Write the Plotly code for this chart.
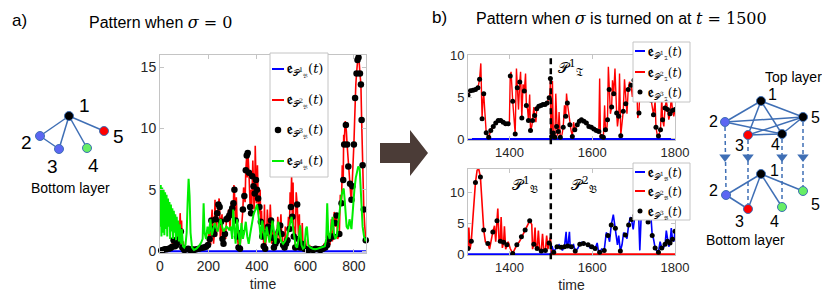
import plotly.graph_objects as go

# ======================= DATA =======================
# ---- panel a) : pattern when sigma = 0 ----
a_dot_t = [5, 12, 20, 28, 36, 44, 50, 56, 62, 68, 74, 80, 86, 92, 100, 108, 116, 124, 132, 140,
           150, 160, 170, 180, 190, 198, 205, 212, 218, 224, 230, 236, 241, 246, 252, 258, 262,
           268, 274, 280, 286, 292, 298, 303, 307, 312, 318, 324, 330, 336, 342, 348, 354, 358,
           362, 367, 372, 376, 381, 386, 391, 396, 400, 405, 410, 416, 422, 428, 434, 440, 446,
           452, 458, 464, 470, 476, 482, 490, 496, 502, 508, 514, 520, 526, 534, 540, 546, 552,
           558, 566, 572, 578, 584, 590, 596, 604, 612, 622, 632, 642, 652, 662, 672, 682, 690,
           698, 704, 715, 722, 729, 740, 749, 756, 760, 767, 772, 777, 784, 790, 794, 800, 805,
           811, 815, 819, 825, 829, 832, 836, 841, 849]
a_dot_v = [0.05, 0.1, 0.15, 0.15, 0.2, 0.25, 0.35, 0.9, 0.4, 0.5, 0.7, 1.0, 1.6, 0.3, 0.1, 0.15,
           0.2, 0.1, 0.15, 0.1, 0.15, 0.2, 0.25, 0.3, 0.35, 0.5, 1.0, 2.5, 1.8, 1.4, 2.6, 3.1, 3.8,
           3.6, 2.4, 1.0, 0.6, 1.4, 2.6, 2.7, 2.9, 3.2, 3.5, 3.9, 5.0, 2.5, 1.2, 0.3, 0.2, 1.5, 3.4,
           4.5, 6.6, 7.8, 8.0, 6.4, 3.6, 3.1, 6.1, 5.3, 4.7, 5.8, 5.0, 4.3, 3.6, 2.4, 1.2, 0.4, 0.2,
           1.5, 2.0, 1.7, 2.5, 1.1, 0.3, 0.6, 0.8, 1.6, 2.1, 1.4, 0.5, 0.3, 0.6, 0.9, 1.8, 3.6, 2.8,
           1.2, 0.3, 3.8, 1.0, 0.3, 0.6, 0.4, 0.2, 0.15, 0.1, 0.15, 0.1, 0.2, 0.15, 0.1, 0.2, 0.3,
           0.5, 1.0, 1.2, 1.2, 2.3, 2.9, 1.4, 3.9, 5.8, 8.7, 10.3, 8.7, 6.9, 5.5, 4.2, 5.3, 8.7,
           12.5, 14.5, 15.6, 15.8, 14.5, 13.6, 10.7, 7.0, 3.4, 0.9]
a_red_extra_t = [53, 59, 77, 83, 89, 96, 203, 209, 215, 221, 227, 233, 239, 244, 249, 256, 271,
                 283, 289, 295, 301, 305, 310, 315, 321, 327, 333, 339, 345, 351, 356, 360, 364,
                 369, 374, 379, 383, 388, 393, 398, 402, 407, 413, 419, 425, 431, 437, 443, 449,
                 455, 461, 467, 473, 479, 486, 493, 499, 505, 511, 517, 523, 530, 537, 543, 549,
                 555, 562, 569, 575, 581, 587, 593, 600, 617, 637, 657, 677, 686, 694, 701, 707,
                 711, 719, 725, 733, 744, 752, 758, 764, 769, 775, 781, 787, 792, 797, 803, 808,
                 813, 817, 822, 827, 834, 838, 845]
a_red_extra_v = [1.2, 0.2, 2.2, 3.1, 2.5, 0.8, 1.8, 0.5, 3.4, 0.6, 4.2, 1.2, 3.0, 4.3, 1.0, 3.0,
                 1.0, 3.4, 1.9, 4.0, 2.5, 5.4, 3.0, 4.4, 0.8, 1.5, 0.9, 2.6, 5.2, 4.0, 7.4, 6.0,
                 7.6, 4.8, 5.0, 4.0, 7.4, 3.4, 8.6, 3.9, 7.0, 3.0, 5.0, 3.3, 2.2, 3.8, 0.8, 3.4,
                 1.0, 3.8, 0.6, 2.4, 1.2, 1.6, 2.8, 0.9, 3.0, 1.2, 0.6, 2.0, 0.4, 2.8, 4.8, 6.1,
                 5.6, 2.0, 4.8, 2.5, 3.0, 0.5, 2.3, 0.6, 1.0, 0.5, 0.3, 0.4, 0.6, 0.9, 1.6, 0.5,
                 2.6, 0.8, 3.2, 2.0, 1.0, 4.6, 7.0, 9.5, 10.6, 9.8, 7.8, 6.0, 4.6, 5.0, 7.2, 10.6,
                 13.6, 15.2, 15.9, 15.4, 14.0, 8.6, 5.0, 2.0]
a_green_t = [0, 3, 6, 9, 12, 15, 18, 21, 24, 27, 30, 33, 36, 39, 42, 45, 48, 51, 54, 57, 60, 63,
             66, 69, 72, 75, 78, 82, 86, 90, 95, 100, 105, 110, 114, 118, 122, 126, 132, 140,
             150, 160, 170, 176, 180, 184, 190, 196, 202, 208, 214, 220, 226, 232, 238, 244, 250,
             256, 262, 268, 274, 280, 286, 292, 298, 302, 306, 312, 318, 324, 330, 336, 342, 348,
             354, 360, 366, 372, 378, 386, 394, 400, 405, 410, 416, 422, 428, 434, 440, 446, 452,
             458, 464, 470, 476, 482, 488, 494, 500, 508, 516, 524, 532, 538, 543, 548, 554, 560,
             566, 572, 578, 584, 590, 596, 602, 606, 612, 620, 630, 640, 650, 660, 670, 680, 686,
             690, 694, 700, 706, 712, 718, 724, 730, 736, 742, 748, 754, 758, 762, 766, 770, 776,
             782, 790, 796, 802, 808, 813, 818, 824, 830, 836, 842, 849]
a_green_v = [2.0, 5.4, 1.2, 5.2, 1.5, 5.0, 1.3, 4.8, 1.8, 4.6, 1.2, 4.3, 2.0, 4.0, 1.0, 3.8,
             1.6, 3.5, 1.0, 3.3, 1.5, 3.0, 0.9, 2.8, 1.2, 2.5, 0.8, 2.2, 0.6, 1.8, 0.4, 0.3, 0.5,
             1.5, 4.0, 5.9, 4.5, 1.5, 0.3, 0.1, 0.2, 0.4, 0.7, 1.0, 3.9, 1.5, 1.0, 2.0, 1.4, 2.6,
             1.3, 1.8, 2.3, 1.9, 1.6, 2.2, 2.6, 2.0, 1.6, 1.8, 2.0, 1.9, 1.7, 2.0, 1.0, 3.4, 2.0,
             0.6, 2.6, 1.2, 0.5, 2.3, 1.0, 1.6, 2.4, 1.2, 0.6, 1.4, 2.2, 3.0, 3.4, 3.8, 3.2, 2.0,
             1.0, 2.5, 1.5, 0.7, 2.0, 1.2, 0.7, 1.4, 2.5, 1.6, 0.6, 1.4, 2.4, 1.5, 0.8, 0.6, 0.8,
             1.2, 2.0, 2.6, 2.8, 2.0, 1.0, 0.4, 0.3, 1.0, 2.1, 0.5, 0.2, 0.3, 1.8, 2.0, 0.5, 0.3,
             0.2, 0.15, 0.2, 0.25, 0.3, 0.4, 1.0, 3.9, 1.5, 1.0, 1.8, 2.8, 1.4, 1.0, 1.3, 2.5,
             3.5, 4.4, 5.0, 5.1, 4.2, 3.0, 2.0, 1.8, 2.6, 1.8, 3.5, 5.0, 6.0, 6.6, 6.9, 6.7, 4.5,
             2.0, 1.2, 0.8]
a_blue_t = [0, 850]
a_blue_v = [0, 0]

# ---- panel b) top layer (sigma switched on at t = 1500) ----
bt_dot_t = [1300, 1306, 1312, 1318, 1324, 1328, 1334, 1338, 1344, 1350, 1355, 1361, 1367, 1373,
            1379, 1385, 1391, 1397, 1402, 1408, 1414, 1419, 1425, 1430, 1436, 1441, 1446, 1451,
            1456, 1461, 1466, 1471, 1476, 1481, 1486, 1491, 1496, 1499, 1502, 1506, 1510, 1514,
            1518, 1523, 1530, 1536, 1540, 1546, 1552, 1558, 1564, 1569, 1574, 1580, 1586, 1592,
            1598, 1604, 1610, 1616, 1623, 1627, 1632, 1637, 1641, 1647, 1652, 1659, 1664, 1669,
            1675, 1681, 1687, 1694, 1701, 1707, 1713, 1722, 1730, 1738, 1743, 1748, 1754, 1760,
            1765, 1770, 1776, 1782, 1788, 1794, 1800]
bt_dot_v = [5.2, 5.75, 5.8, 5.9, 6.1, 7.1, 2.4, 5.4, 0.75, 0.2, 1.0, 1.5, 1.9, 2.2, 2.2, 2.0,
            1.8, 1.8, 7.5, 4.5, 0.6, 6.1, 6.8, 2.5, 5.7, 4.0, 2.2, 1.0, 2.2, 2.8, 3.6, 3.9, 4.0,
            4.1, 4.1, 4.3, 4.9, 7.2, 0.3, 0.7, 0.2, 1.5, 0.9, 0.2, 1.4, 2.7, 4.3, 1.7, 0.3, 1.1,
            1.7, 2.1, 2.3, 2.1, 1.9, 1.5, 1.4, 1.2, 1.0, 0.9, 0.3, 0.2, 1.1, 2.3, 5.9, 3.8, 5.4,
            3.1, 2.7, 0.4, 3.3, 4.2, 5.9, 6.4, 7.0, 7.5, 3.1, 6.5, 7.2, 6.0, 4.6, 2.9, 1.4, 0.35,
            1.1, 2.3, 3.7, 3.5, 3.0, 3.4, 3.5]
bt_red_extra_t = [1303, 1326, 1331, 1336, 1341, 1347, 1400, 1404, 1411, 1417, 1422, 1427, 1433,
                  1439, 1444, 1449, 1454, 1459, 1464, 1498, 1500, 1504, 1508, 1512, 1516, 1520,
                  1527, 1533, 1538, 1543, 1549, 1555, 1618, 1620, 1630, 1635, 1639, 1644, 1649,
                  1655, 1661, 1666, 1672, 1678, 1684, 1690, 1697, 1704, 1710, 1717, 1727, 1734,
                  1752, 1757, 1768, 1773, 1779, 1785, 1791, 1797]
bt_red_extra_v = [5.4, 6.5, 9.0, 4.5, 3.0, 0.4, 2.0, 8.0, 2.5, 8.4, 3.5, 8.0, 6.5, 7.8, 3.5, 5.3,
                  1.5, 3.8, 2.0, 5.5, 0.0, 6.9, 0.5, 5.4, 0.4, 3.2, 0.5, 4.0, 5.4, 3.0, 1.0, 2.0,
                  7.2, 0.2, 4.0, 1.0, 8.6, 3.0, 7.0, 8.4, 1.5, 7.8, 2.0, 7.1, 3.0, 6.8, 5.0, 8.0,
                  2.5, 8.5, 5.0, 8.0, 4.5, 0.5, 5.0, 1.5, 4.6, 2.3, 5.0, 2.7]
bt_blue_t = [1300, 1800]
bt_blue_v = [0, 0]

# ---- panel b) bottom layer ----
bb_dot_t = [1300, 1308, 1318, 1330, 1338, 1348, 1360, 1370, 1378, 1386, 1394, 1408, 1418, 1429,
            1438, 1449, 1459, 1467, 1477, 1487, 1496, 1507, 1515, 1525, 1533, 1541, 1550, 1559,
            1570, 1579, 1590, 1599, 1607, 1618, 1629, 1638, 1646, 1656, 1668, 1680, 1688, 1695,
            1703, 1712, 1735, 1745, 1752, 1760, 1768, 1776, 1782, 1788, 1794, 1800]
bb_dot_v = [0.9, 2.1, 11.6, 12.5, 3.9, 1.7, 3.6, 5.4, 2.1, 1.9, 1.5, 0.1, 1.5, 2.8, 3.9, 5.4, 1.6,
            0.9, 0.5, 0.6, 1.8, 0.3, 1.2, 1.1, 1.2, 1.3, 1.2, 0.5, 1.6, 1.7, 1.5, 1.2, 0.9, 0.3,
            0.6, 3.0, 4.7, 4.2, 0.5, 3.1, 4.7, 5.6, 6.2, 6.8, 5.2, 3.0, 1.0, 0.3, 1.0, 1.6, 2.1,
            1.8, 2.4, 3.7]
bb_red_extra_t = [1302, 1305, 1312, 1322, 1326, 1334, 1342, 1352, 1356, 1364, 1367, 1372, 1375,
                  1380, 1383, 1388, 1391, 1397, 1402, 1413, 1424, 1433, 1443, 1454, 1456, 1462,
                  1464, 1470, 1473, 1480, 1483, 1490, 1493, 1499, 1502, 1800]
bb_red_extra_v = [4.3, 0.8, 6.0, 13.6, 13.8, 8.0, 2.0, 0.8, 2.5, 4.6, 2.0, 7.4, 2.0, 6.0, 1.0,
                  4.5, 0.8, 2.0, 0.9, 0.8, 2.0, 3.2, 4.5, 4.8, 0.8, 4.3, 1.0, 3.8, 0.6, 3.3, 0.6,
                  3.0, 0.8, 2.7, 0.0, 0.0]
bb_blue_extra_t = [1300, 1500, 1503, 1511, 1520, 1528, 1537, 1539, 1545, 1547, 1555, 1565, 1575,
                   1595, 1612, 1615, 1623, 1634, 1642, 1651, 1661, 1664, 1672, 1676, 1684, 1692,
                   1699, 1707, 1715, 1720, 1728, 1740, 1748, 1756, 1764, 1772, 1779, 1785, 1791,
                   1797]
bb_blue_extra_v = [0.0, 0.0, 1.3, 0.8, 1.5, 0.6, 3.6, 1.0, 3.6, 0.9, 1.5, 0.9, 1.9, 1.0, 1.8, 0.5,
                   0.8, 3.5, 2.0, 6.4, 1.5, 3.0, 1.5, 3.5, 2.5, 6.0, 4.0, 8.0, 0.6, 9.0, 7.0, 8.0,
                   2.5, 0.5, 2.0, 1.0, 3.8, 1.2, 4.2, 2.0]
b_switch_time = 1500

# ---- ticks & labels ----
a_xticks = [0, 200, 400, 600, 800]
a_yticks = [0, 5, 10, 15]
b_xticks = [1400, 1600, 1800]
b_yticks = [0, 5, 10]
E = "<span style='font-size:15px'><b>𝔢</b></span>"
a_names = [E + "<sub>𝒫<sup>%d</sup><sub>𝔅</sub></sub>(<i>t</i>)" % k for k in (1, 2, 3, 4)]
bt_names = [E + "<sub>𝒫<sup>%d</sup><sub>𝔗</sub></sub>(<i>t</i>)" % k for k in (1, 2, 3)]
bb_names = [E + "<sub>𝒫<sup>%d</sup><sub>𝔅</sub></sub>(<i>t</i>)" % k for k in (1, 2, 3)]


def merge(t1, v1, t2, v2):
    pts = sorted(zip(list(t1) + list(t2), list(v1) + list(v2)))
    return [p[0] for p in pts], [p[1] for p in pts]


a_red_t, a_red_v = merge(a_dot_t, a_dot_v, a_red_extra_t, a_red_extra_v)
bt_red_t, bt_red_v = merge(bt_dot_t, bt_dot_v, bt_red_extra_t, bt_red_extra_v)
bb_pre = [(t, v) for t, v in zip(bb_dot_t, bb_dot_v) if t < b_switch_time]
bb_post = [(t, v) for t, v in zip(bb_dot_t, bb_dot_v) if t > b_switch_time]
bb_red_t, bb_red_v = merge([p[0] for p in bb_pre], [p[1] for p in bb_pre], bb_red_extra_t, bb_red_extra_v)
bb_blue_t, bb_blue_v = merge([p[0] for p in bb_post], [p[1] for p in bb_post], bb_blue_extra_t, bb_blue_extra_v)

# ======================= STYLE / LAYOUT =======================
# The page body has an 8 px margin, so the figure is offset by OFF; all layout
# positions below are given in window pixels and converted here.
OFF = 8
FW, FH = 814, 289
def px(x): return (x - OFF) / FW
def py(y): return 1 - (y - OFF) / FH

BLUE, RED, GREEN = "#0000ff", "#ff0000", "#00ee00"
AXC = "#c4c4c4"
TXT = "#262626"
SANS = "Liberation Sans, Arial, sans-serif"
SERIF = "DejaVu Serif, serif"

fig = go.Figure()

# panel a traces
fig.add_trace(go.Scatter(x=a_blue_t, y=a_blue_v, mode="lines", line=dict(color=BLUE, width=2),
                         name=a_names[0], xaxis="x", yaxis="y"))
fig.add_trace(go.Scatter(x=a_red_t, y=a_red_v, mode="lines", line=dict(color=RED, width=1.6),
                         name=a_names[1], xaxis="x", yaxis="y"))
fig.add_trace(go.Scatter(x=a_dot_t, y=a_dot_v, mode="markers", marker=dict(color="black", size=6.5),
                         name=a_names[2], xaxis="x", yaxis="y", cliponaxis=False))
fig.add_trace(go.Scatter(x=a_green_t, y=a_green_v, mode="lines", line=dict(color=GREEN, width=2),
                         name=a_names[3], xaxis="x", yaxis="y"))

# panel b top
fig.add_trace(go.Scatter(x=bt_blue_t, y=bt_blue_v, mode="lines", line=dict(color=BLUE, width=2),
                         name=bt_names[0], xaxis="x2", yaxis="y2"))
fig.add_trace(go.Scatter(x=bt_red_t, y=bt_red_v, mode="lines", line=dict(color=RED, width=1.4),
                         name=bt_names[1], xaxis="x2", yaxis="y2"))
fig.add_trace(go.Scatter(x=bt_dot_t, y=bt_dot_v, mode="markers", marker=dict(color="black", size=5),
                         name=bt_names[2], xaxis="x2", yaxis="y2"))

# panel b bottom
fig.add_trace(go.Scatter(x=bb_blue_t, y=bb_blue_v, mode="lines", line=dict(color=BLUE, width=1.6),
                         name=bb_names[0], xaxis="x3", yaxis="y3"))
fig.add_trace(go.Scatter(x=bb_red_t, y=bb_red_v, mode="lines", line=dict(color=RED, width=1.6),
                         name=bb_names[1], xaxis="x3", yaxis="y3"))
fig.add_trace(go.Scatter(x=bb_dot_t, y=bb_dot_v, mode="markers", marker=dict(color="black", size=5),
                         name=bb_names[2], xaxis="x3", yaxis="y3"))

# ---------------- overlay (window-pixel space): legends, networks ----------------
OV = dict(xaxis="x4", yaxis="y4", showlegend=False, hoverinfo="skip")

# legend boxes drawn in the overlay layer (box: x0, y0, x1, y1; rows: y centres)
legend_specs = [
    dict(box=(270, 53, 328, 177), rows=[69, 100, 130, 161], sample=(272, 284), tx=285, fs=13, ms=6.5,
         styles=[("line", BLUE), ("line", RED), ("marker", "black"), ("line", GREEN)], names=a_names),
    dict(box=(633, 42, 690, 102), rows=[51, 72, 92], sample=(635, 645), tx=646, fs=12, ms=5,
         styles=[("line", BLUE), ("line", RED), ("marker", "black")], names=bt_names),
    dict(box=(633, 163, 690, 220), rows=[172, 191, 211], sample=(635, 645), tx=646, fs=12, ms=5,
         styles=[("line", BLUE), ("line", RED), ("marker", "black")], names=bb_names),
]
for spec in legend_specs:
    x0, y0, x1, y1 = spec["box"]
    fig.add_trace(go.Scatter(x=[x0, x1, x1, x0, x0], y=[y0, y0, y1, y1, y0], mode="lines",
                             fill="toself", fillcolor="white", line=dict(color=AXC, width=1), **OV))
    for (kind, col), yy, name in zip(spec["styles"], spec["rows"], spec["names"]):
        sx0, sx1 = spec["sample"]
        if kind == "line":
            fig.add_trace(go.Scatter(x=[sx0, sx1], y=[yy, yy], mode="lines",
                                     line=dict(color=col, width=2), **OV))
        else:
            fig.add_trace(go.Scatter(x=[(sx0 + sx1) / 2], y=[yy], mode="markers",
                                     marker=dict(color=col, size=spec["ms"]), **OV))
        fig.add_annotation(x=spec["tx"], y=yy, xref="x4", yref="y4", text=name, showarrow=False,
                           xanchor="left", yanchor="middle",
                           font=dict(family=SERIF, size=spec["fs"], color="black"))

EDGE = "#3f6fb5"
NBLUE, NRED, NGREEN = "#5b66f2", "#ff0000", "#66ee66"

net_left_pos = {1: (69, 116), 2: (40, 136), 3: (59, 149), 4: (87, 148), 5: (104, 131)}
net_left_col = {1: "black", 2: NBLUE, 3: NBLUE, 4: NGREEN, 5: NRED}
net_left_edges = [(1, 2), (1, 3), (2, 3), (1, 4), (1, 5)]
net_left_lab = {1: (84, 105), 2: (26, 142), 3: (52, 166), 4: (93, 165), 5: (118, 136)}

top_pos = {1: (761, 101), 2: (725, 122), 3: (748, 135), 4: (782, 134), 5: (803, 117)}
top_col = {1: "black", 2: NBLUE, 3: NRED, 4: "black", 5: "black"}
top_edges = [(1, 2), (1, 3), (1, 4), (1, 5), (2, 5), (2, 4), (3, 5), (3, 4), (4, 5)]
top_lab = {1: (772, 94), 2: (713, 121), 3: (739, 145), 4: (775, 144), 5: (815, 117)}

bot_pos = {1: (761, 174), 2: (726, 195), 3: (748, 209), 4: (782, 207), 5: (803, 191)}
bot_col = {1: "black", 2: NBLUE, 3: NRED, 4: NGREEN, 5: NGREEN}
bot_edges = [(1, 2), (1, 3), (1, 4), (1, 5), (2, 3)]
bot_lab = {1: (774, 170), 2: (713, 190), 3: (739, 221), 4: (774, 221), 5: (815, 204)}


def draw_net(pos, col, edges, lab, fsize):
    ex, ey = [], []
    for a, b in edges:
        ex += [pos[a][0], pos[b][0], None]
        ey += [pos[a][1], pos[b][1], None]
    fig.add_trace(go.Scatter(x=ex, y=ey, mode="lines", line=dict(color=EDGE, width=1.5), **OV))
    ks = sorted(pos)
    fig.add_trace(go.Scatter(x=[pos[k][0] for k in ks], y=[pos[k][1] for k in ks], mode="markers",
                             marker=dict(color=[col[k] for k in ks], size=9,
                                         line=dict(color=EDGE, width=1)), **OV))
    for k in ks:
        fig.add_annotation(x=lab[k][0], y=lab[k][1], xref="x4", yref="y4", text=str(k),
                           showarrow=False, font=dict(family=SANS, size=fsize, color="black"))


draw_net(net_left_pos, net_left_col, net_left_edges, net_left_lab, 19)
draw_net(top_pos, top_col, top_edges, top_lab, 16)
draw_net(bot_pos, bot_col, bot_edges, bot_lab, 16)

# inter-layer dashed arrows
for k in (2, 3, 4, 5):
    fig.add_trace(go.Scatter(x=[top_pos[k][0], bot_pos[k][0]], y=[top_pos[k][1] + 5, bot_pos[k][1] - 5],
                             mode="lines", line=dict(color=EDGE, width=1.5, dash="4px,3px"), **OV))
fig.add_trace(go.Scatter(x=[top_pos[k][0] for k in (2, 3, 4, 5)], y=[157] * 4, mode="markers",
                         marker=dict(symbol="triangle-down", size=10, color=EDGE), **OV))

# annotations (texts), positions in window pixels
ann = [
    dict(x=10, y=20, text="a)", size=17, xanchor="left"),
    dict(x=87, y=22, text="Pattern when <span style='font-family:DejaVu Serif'><i>σ</i> = 0</span>",
         size=16, xanchor="left"),
    dict(x=430, y=17, text="b)", size=17, xanchor="left"),
    dict(x=474, y=18,
         text="Pattern when <span style='font-family:DejaVu Serif'><i>σ</i></span> is turned on at "
              "<span style='font-family:DejaVu Serif'><i>t</i> = 1500</span>",
         size=16, xanchor="left"),
    dict(x=70, y=188, text="Bottom layer", size=14, xanchor="center"),
    dict(x=793, y=77, text="Top layer", size=14, xanchor="center"),
    dict(x=745, y=240, text="Bottom layer", size=14, xanchor="center"),
]
for a in ann:
    fig.add_annotation(x=a["x"], y=a["y"], xref="x4", yref="y4", text=a["text"],
                       showarrow=False, xanchor=a["xanchor"], yanchor="middle",
                       font=dict(family=SANS, size=a["size"], color="black"))

# regime labels inside panel b
for txt, xr, yr, xv, yv in [("𝒫<sup>1</sup><sub>𝔗</sub>", "x2", "y2", 1548, 8.5),
                            ("𝒫<sup>1</sup><sub>𝔅</sub>", "x3", "y3", 1438, 11.3),
                            ("𝒫<sup>2</sup><sub>𝔅</sub>", "x3", "y3", 1580, 11.3)]:
    fig.add_annotation(x=xv, y=yv, xref=xr, yref=yr, text=txt, showarrow=False,
                       font=dict(family=SERIF, size=15, color="black"))

shapes = [
    dict(type="line", xref="x2", yref="y2 domain", x0=b_switch_time, x1=b_switch_time, y0=-0.05, y1=1,
         line=dict(color="black", width=2.5, dash="6px,4px")),
    dict(type="line", xref="x3", yref="y3 domain", x0=b_switch_time, x1=b_switch_time, y0=-0.05, y1=1,
         line=dict(color="black", width=2.5, dash="6px,4px")),
    dict(type="path", xref="x4", yref="y4",
         path="M 380 143 L 410 143 L 410 130 L 428 153 L 410 176 L 410 163 L 380 163 Z",
         fillcolor="#4b3c37", line=dict(width=0)),
]

axis_common = dict(showline=True, linecolor=AXC, linewidth=1, mirror="ticks", ticks="inside",
                   ticklen=4, tickcolor=AXC, showgrid=False, zeroline=False, automargin=False,
                   tickfont=dict(family=SANS, size=14, color=TXT))
b_axis = dict(axis_common, tickfont=dict(family=SANS, size=13, color=TXT))

fig.update_layout(
    width=FW, height=FH, margin=dict(l=0, r=0, t=0, b=0, autoexpand=False),
    paper_bgcolor="white", plot_bgcolor="rgba(0,0,0,0)",
    showlegend=False,
    xaxis=dict(axis_common, domain=[px(160), px(366)], range=[0, 850], tickvals=a_xticks, anchor="y",
               title=dict(text="time", font=dict(family=SANS, size=14, color=TXT), standoff=6)),
    yaxis=dict(axis_common, domain=[py(253), py(55)], range=[-0.15, 16], tickvals=a_yticks, anchor="x"),
    xaxis2=dict(b_axis, domain=[px(468), px(675)], range=[1300, 1800], tickvals=b_xticks, anchor="y2"),
    yaxis2=dict(b_axis, domain=[py(140), py(55)], range=[-0.12, 10], tickvals=b_yticks, anchor="x2"),
    xaxis3=dict(b_axis, domain=[px(468), px(675)], range=[1300, 1800], tickvals=b_xticks, anchor="y3",
                title=dict(text="time", font=dict(family=SANS, size=14, color=TXT), standoff=6)),
    yaxis3=dict(b_axis, domain=[py(255), py(169)], range=[-0.15, 13.8], tickvals=b_yticks, anchor="x3"),
    xaxis4=dict(domain=[0, 1], range=[OFF, OFF + FW], visible=False, anchor="y4", fixedrange=True,
                automargin=False),
    yaxis4=dict(domain=[0, 1], range=[OFF + FH, OFF], visible=False, anchor="x4", fixedrange=True,
                automargin=False),
    shapes=shapes,
)

fig.write_html("out.html")
